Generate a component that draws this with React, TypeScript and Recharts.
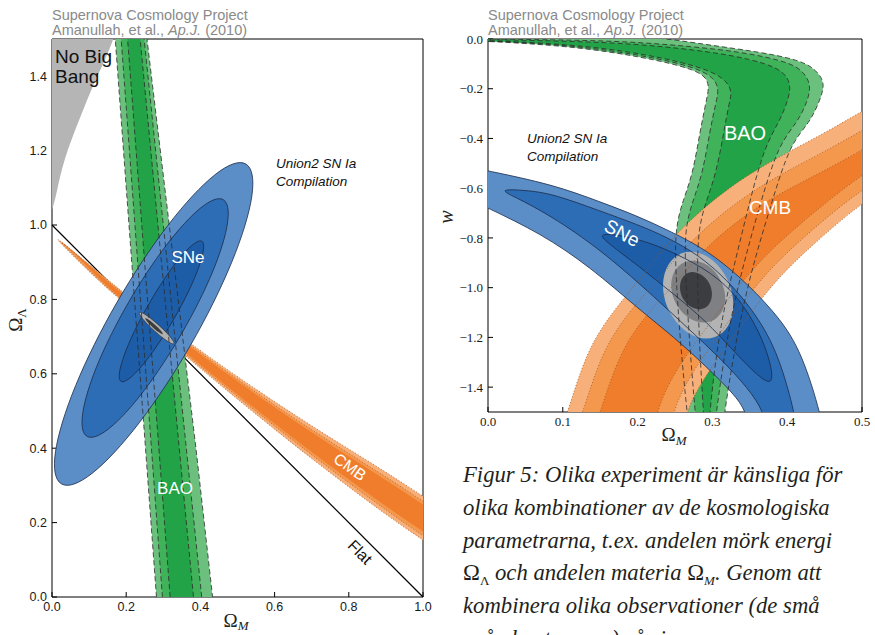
import React from 'react';
import { ScatterChart, Scatter, XAxis, YAxis, ReferenceLine } from 'recharts';

// ---- left panel: Omega_M vs Omega_Lambda ----
const xTicksL = [0, 0.2, 0.4, 0.6, 0.8, 1.0];
const yTicksL = [0, 0.2, 0.4, 0.6, 0.8, 1.0, 1.2, 1.4];

const noBigBang = [[-0.05, 1.6], [0.19, 1.6], [0.17, 1.5], [0.121, 1.4], [0.084, 1.31], [0.04, 1.2], [0.016, 1.11], [0.0, 1.02], [-0.05, 0.97]];

const baoOuterL = [[0.163, 1.6], [0.252, 0.4], [0.289, -0.1], [0.444, -0.1], [0.388, 0.4], [0.244, 1.6]];
const baoMidL = [[0.179, 1.6], [0.268, 0.4], [0.305, -0.1], [0.414, -0.1], [0.362, 0.4], [0.238, 1.6]];
const baoInnerL = [[0.196, 1.6], [0.288, 0.4], [0.326, -0.1], [0.391, -0.1], [0.343, 0.4], [0.228, 1.6]];

const cmbOuterL = [[-0.01, 0.985], [0.129, 0.87], [0.2, 0.812], [0.363, 0.686], [0.705, 0.45], [1.2, 0.16], [1.2, 0.0], [0.705, 0.362], [0.363, 0.644], [0.2, 0.786], [0.129, 0.846], [0.04, 0.934]];
const cmbMidL = [[0.003, 0.975], [0.129, 0.867], [0.2, 0.809], [0.363, 0.681], [0.705, 0.439], [1.2, 0.143], [1.2, 0.015], [0.705, 0.373], [0.363, 0.649], [0.2, 0.789], [0.129, 0.849], [0.045, 0.933]];
const cmbInnerL = [[0.02, 0.962], [0.129, 0.864], [0.2, 0.807], [0.363, 0.677], [0.705, 0.432], [1.2, 0.131], [1.2, 0.03], [0.705, 0.38], [0.363, 0.653], [0.2, 0.791], [0.129, 0.852], [0.05, 0.935]];

const sneOuterL = [[0.534, 1.184], [0.447, 1.154], [0.314, 1.011], [0.17, 0.794], [0.054, 0.561], [-0.003, 0.374], [0.014, 0.284], [0.101, 0.314], [0.234, 0.457], [0.378, 0.674], [0.494, 0.907], [0.551, 1.094]];
const sneMidL = [[0.47, 1.083], [0.407, 1.06], [0.309, 0.954], [0.203, 0.794], [0.116, 0.621], [0.074, 0.483], [0.086, 0.417], [0.149, 0.44], [0.247, 0.546], [0.353, 0.707], [0.44, 0.879], [0.482, 1.017]];
const sneInnerL = [[0.409, 0.965], [0.376, 0.949], [0.321, 0.885], [0.26, 0.789], [0.207, 0.687], [0.179, 0.607], [0.181, 0.571], [0.214, 0.587], [0.269, 0.652], [0.331, 0.748], [0.383, 0.849], [0.411, 0.929]];

const combOuterL = [[0.331, 0.679], [0.327, 0.689], [0.311, 0.709], [0.288, 0.731], [0.263, 0.752], [0.243, 0.765], [0.233, 0.767], [0.237, 0.757], [0.253, 0.737], [0.276, 0.715], [0.301, 0.694], [0.321, 0.681]];
const combInnerL = [[0.301, 0.7046], [0.2958, 0.7141], [0.2784, 0.7317], [0.259, 0.7471], [0.249, 0.7514], [0.2542, 0.7419], [0.2716, 0.7243], [0.291, 0.7089]];

const flatLine = [{ x: 0, y: 1 }, { x: 1, y: 0 }];

// ---- right panel: Omega_M vs w ----
const xTicksR = [0, 0.1, 0.2, 0.3, 0.4, 0.5];
const yTicksR = [0, -0.2, -0.4, -0.6, -0.8, -1.0, -1.2, -1.4];

const baoOuterR = [[-0.1, 0.0], [0.0, -0.008], [0.114, -0.03], [0.203, -0.07], [0.283, -0.124], [0.297, -0.177], [0.292, -0.245], [0.283, -0.379], [0.274, -0.54], [0.261, -0.647], [0.249, -0.77], [0.252, -1.0], [0.258, -1.25], [0.266, -1.5], [0.27, -1.6], [0.272, -1.7],
  [0.31, -1.7], [0.313, -1.6], [0.316, -1.5], [0.335, -1.15], [0.355, -0.9], [0.38, -0.65], [0.404, -0.42], [0.43, -0.338], [0.444, -0.245], [0.451, -0.178], [0.439, -0.124], [0.417, -0.084], [0.359, -0.05], [0.292, -0.023], [0.2, 0.02], [0.0, 0.03], [-0.1, 0.03]];
const baoMidR = [[-0.1, -0.002], [0.0, -0.006], [0.114, -0.026], [0.205, -0.064], [0.292, -0.122], [0.31, -0.19], [0.305, -0.25], [0.296, -0.38], [0.287, -0.54], [0.274, -0.65], [0.262, -0.77], [0.265, -1.0], [0.27, -1.25], [0.277, -1.5], [0.28, -1.6], [0.282, -1.7],
  [0.3, -1.7], [0.302, -1.6], [0.305, -1.5], [0.322, -1.15], [0.342, -0.9], [0.365, -0.65], [0.389, -0.42], [0.414, -0.335], [0.428, -0.245], [0.432, -0.18], [0.42, -0.125], [0.4, -0.092], [0.35, -0.058], [0.29, -0.035], [0.2, -0.012], [0.114, -0.004], [0.0, 0.0], [-0.1, 0.002]];
const baoInnerR = [[-0.1, -0.003], [0.0, -0.005], [0.114, -0.022], [0.208, -0.058], [0.305, -0.125], [0.328, -0.2], [0.322, -0.26], [0.315, -0.38], [0.305, -0.54], [0.292, -0.65], [0.28, -0.77], [0.28, -1.0], [0.283, -1.25], [0.288, -1.5], [0.29, -1.6], [0.291, -1.7],
  [0.294, -1.7], [0.295, -1.6], [0.296, -1.5], [0.31, -1.15], [0.33, -0.9], [0.35, -0.65], [0.37, -0.43], [0.39, -0.33], [0.402, -0.24], [0.405, -0.18], [0.395, -0.13], [0.37, -0.097], [0.33, -0.068], [0.28, -0.045], [0.2, -0.02], [0.114, -0.009], [0.0, -0.002], [-0.1, -0.001]];

const cmbOuterR = [[0.085, -1.7], [0.093, -1.6], [0.107, -1.5], [0.132, -1.25], [0.168, -1.09], [0.203, -0.969], [0.248, -0.785], [0.319, -0.6], [0.381, -0.486], [0.448, -0.382], [0.5, -0.29], [0.55, -0.21], [0.6, -0.13],
  [0.6, -0.5], [0.55, -0.57], [0.5, -0.655], [0.426, -0.848], [0.381, -0.982], [0.337, -1.157], [0.28, -1.4], [0.266, -1.5], [0.258, -1.6], [0.252, -1.7]];
const cmbMidR = [[0.106, -1.7], [0.114, -1.6], [0.127, -1.5], [0.153, -1.25], [0.19, -1.09], [0.226, -0.975], [0.27, -0.81], [0.34, -0.635], [0.4, -0.53], [0.46, -0.437], [0.51, -0.35], [0.56, -0.27], [0.6, -0.2],
  [0.6, -0.45], [0.55, -0.52], [0.5, -0.6], [0.42, -0.8], [0.37, -0.945], [0.325, -1.12], [0.265, -1.37], [0.248, -1.5], [0.24, -1.6], [0.234, -1.7]];
const cmbInnerR = [[0.13, -1.7], [0.138, -1.6], [0.15, -1.5], [0.177, -1.25], [0.214, -1.1], [0.25, -0.985], [0.292, -0.83], [0.36, -0.67], [0.42, -0.575], [0.475, -0.49], [0.52, -0.41], [0.6, -0.29],
  [0.6, -0.4], [0.55, -0.46], [0.5, -0.54], [0.41, -0.76], [0.36, -0.9], [0.312, -1.08], [0.245, -1.35], [0.226, -1.5], [0.218, -1.6], [0.212, -1.7]];

const sneOuterR = [[-0.1, -0.47], [-0.05, -0.5], [0, -0.53], [0.0865, -0.585], [0.15, -0.655], [0.2, -0.712], [0.245, -0.775], [0.292, -0.848], [0.337, -0.956], [0.381, -1.09], [0.417, -1.237], [0.444, -1.5], [0.45, -1.6], [0.452, -1.7],
  [0.355, -1.7], [0.35, -1.6], [0.346, -1.5], [0.328, -1.425], [0.292, -1.318], [0.248, -1.197], [0.203, -1.09], [0.136, -0.915], [0.07, -0.781], [0, -0.68], [-0.05, -0.608], [-0.1, -0.536]];
const sneMidR = [[0.012, -0.603], [0.05, -0.608], [0.0865, -0.622], [0.15, -0.692], [0.2, -0.746], [0.24, -0.798], [0.282, -0.869], [0.32, -0.97], [0.353, -1.085], [0.386, -1.245], [0.41, -1.5], [0.414, -1.6], [0.416, -1.7],
  [0.381, -1.7], [0.375, -1.6], [0.369, -1.5], [0.348, -1.405], [0.311, -1.285], [0.268, -1.165], [0.225, -1.045], [0.158, -0.865], [0.092, -0.725], [0.04, -0.64]];
const sneInnerR = [[0.144, -0.775], [0.2, -0.8], [0.25, -0.86], [0.3, -0.94], [0.335, -1.04], [0.362, -1.17], [0.378, -1.3], [0.382, -1.395], [0.362, -1.36], [0.33, -1.26], [0.29, -1.13], [0.25, -1.03], [0.2, -0.91], [0.16, -0.82]];

const combOuterR = [[0.329, -1.03], [0.317, -0.939], [0.296, -0.872], [0.27, -0.848], [0.248, -0.872], [0.234, -0.939], [0.233, -1.03], [0.245, -1.121], [0.267, -1.188], [0.292, -1.212], [0.315, -1.188], [0.328, -1.121]];
const combMidR = [[0.318, -1.016], [0.309, -0.951], [0.293, -0.903], [0.273, -0.886], [0.256, -0.903], [0.245, -0.951], [0.244, -1.016], [0.253, -1.081], [0.269, -1.129], [0.289, -1.146], [0.306, -1.129], [0.317, -1.081]];
const combInnerR = [[0.3, -1.012], [0.295, -0.973], [0.285, -0.944], [0.273, -0.933], [0.263, -0.944], [0.257, -0.973], [0.256, -1.012], [0.261, -1.052], [0.271, -1.08], [0.283, -1.091], [0.293, -1.08], [0.299, -1.052]];

const toPts = (a: number[][]) => a.map(([x, y]) => ({ x, y }));
const noDot = () => null;

const green = ['#6cc07e', '#40b25a', '#22a347'];
const orange = ['#f7b079', '#f4984e', '#f07d2b'];
const blue = ['#5b8ec7', '#2c6db5', '#1d5da8'];
const grey = ['#b3b3b3', '#7e8083', '#3b3d40'];

// filled contour region drawn through the scatter line
function region(data: number[][], fill: string, curve = 'basisClosed') {
    return (
        <Scatter data={toPts(data)} shape={noDot} isAnimationActive={false} legendType="none"
            line={{ fill, stroke: 'none' }} lineType="joint" lineJointType={curve as any} />
    );
}

function outline(data: number[][], stroke: string, dash?: string, curve = 'basisClosed', w = 0.8) {
    return (
        <Scatter data={toPts(data)} shape={noDot} isAnimationActive={false} legendType="none"
            line={{ fill: 'none', stroke, strokeWidth: w, strokeDasharray: dash }} lineType="joint" lineJointType={curve as any} />
    );
}

const f1 = (v: number) => (v < 0 ? '\u2212' + Math.abs(v).toFixed(1) : v.toFixed(1));
const sansTick = { fill: '#1a1a1a', fontSize: 12.5, fontFamily: "'Liberation Sans', Arial, sans-serif" };
const serifTick = { fill: '#1a1a1a', fontSize: 13, fontFamily: "'Liberation Serif', 'DejaVu Serif', serif" };
const ax = { stroke: '#000', strokeWidth: 1 };

function LeftPanel() {
    return (
        <ScatterChart width={440} height={635} margin={{ top: 38, right: 16, bottom: 8, left: 12 }}>
            {region(noBigBang, '#b5b5b5')}
            {region(baoOuterL, green[0], 'linearClosed')}
            {region(baoMidL, green[1], 'linearClosed')}
            {region(baoInnerL, green[2], 'linearClosed')}
            {region(cmbOuterL, orange[0])}
            {region(cmbMidL, orange[1])}
            {region(cmbInnerL, orange[2])}
            {outline(cmbOuterL, '#b0571a', '1 2')}
            {outline(cmbMidL, '#b0571a', '1 2')}
            {region(sneOuterL, blue[0])}
            {region(sneMidL, blue[1])}
            {region(sneInnerL, blue[2])}
            {outline(sneOuterL, '#1b2b4a')}
            {outline(sneMidL, '#1b2b4a')}
            {outline(sneInnerL, '#1b2b4a')}
            {region(combOuterL, '#b0b0b0')}
            {region(combInnerL, '#3d3d3d')}
            {outline(combOuterL, '#222', undefined, 'basisClosed', 0.6)}
            {outline(baoOuterL, '#2b2b2b', '5 3', 'linearClosed')}
            {outline(baoMidL, '#2b2b2b', '5 3', 'linearClosed')}
            {outline(baoInnerL, '#2b2b2b', '5 3', 'linearClosed')}
            <ReferenceLine segment={flatLine} stroke="#000" strokeWidth={1.2} />
            <XAxis type="number" dataKey="x" domain={[0, 1]} ticks={xTicksL} interval={0} allowDataOverflow height={30}
                tickSize={-5} tickMargin={10} tickFormatter={f1} tick={sansTick} axisLine={ax} tickLine={ax} />
            <XAxis xAxisId="top" orientation="top" type="number" dataKey="x" domain={[0, 1]} ticks={xTicksL} interval={0}
                allowDataOverflow height={1} tickSize={-5} tick={false} axisLine={ax} tickLine={ax} />
            <YAxis type="number" dataKey="y" domain={[0, 1.5]} ticks={yTicksL} interval={0} allowDataOverflow width={40}
                tickSize={-5} tickMargin={10} tickFormatter={f1} tick={sansTick} axisLine={ax} tickLine={ax} />
            <YAxis yAxisId="right" orientation="right" type="number" dataKey="y" domain={[0, 1.5]} ticks={yTicksL} interval={0}
                allowDataOverflow width={1} tickSize={-5} tick={false} axisLine={ax} tickLine={ax} />
        </ScatterChart>
    );
}

function RightPanel() {
    return (
        <ScatterChart width={435} height={635} margin={{ top: 38, right: 12, bottom: 193, left: 8 }}>
            {region(baoOuterR, green[0])}
            {region(baoMidR, green[1])}
            {region(baoInnerR, green[2])}
            {region(cmbOuterR, orange[0])}
            {region(cmbMidR, orange[1])}
            {region(cmbInnerR, orange[2])}
            {region(sneOuterR, blue[0])}
            {region(sneMidR, blue[1])}
            {region(sneInnerR, blue[2])}
            {region(combOuterR, grey[0])}
            {region(combMidR, grey[1])}
            {region(combInnerR, grey[2])}
            {outline(sneOuterR, '#1b2b4a')}
            {outline(sneMidR, '#1b2b4a')}
            {outline(sneInnerR, '#1b2b4a')}
            {outline(cmbOuterR, '#a0521c', '1 2')}
            {outline(cmbMidR, '#a0521c', '1 2')}
            {outline(cmbInnerR, '#a0521c', '1 2')}
            {outline(baoOuterR, '#2b2b2b', '5 3')}
            {outline(baoMidR, '#2b2b2b', '5 3')}
            {outline(baoInnerR, '#2b2b2b', '5 3')}
            <XAxis type="number" dataKey="x" domain={[0, 0.5]} ticks={xTicksR} interval={0} allowDataOverflow height={30}
                tickSize={-5} tickMargin={10} tickFormatter={f1} tick={serifTick} axisLine={ax} tickLine={ax} />
            <XAxis xAxisId="top" orientation="top" type="number" dataKey="x" domain={[0, 0.5]} ticks={xTicksR} interval={0}
                allowDataOverflow height={1} tickSize={-5} tick={false} axisLine={ax} tickLine={ax} />
            <YAxis type="number" dataKey="y" domain={[-1.5, 0]} ticks={yTicksR} interval={0} allowDataOverflow width={40}
                tickSize={-5} tickMargin={10} tickFormatter={f1} tick={serifTick} axisLine={ax} tickLine={ax} />
            <YAxis yAxisId="right" orientation="right" type="number" dataKey="y" domain={[-1.5, 0]} ticks={yTicksR} interval={0}
                allowDataOverflow width={1} tickSize={-5} tick={false} axisLine={ax} tickLine={ax} />
        </ScatterChart>
    );
}

const sans = "'Liberation Sans', Arial, sans-serif";
const serif = "'Liberation Serif', 'Times New Roman', serif";

export default function App() {
    return (
        <div style={{ position: 'absolute', left: 0, top: 0, width: 875, height: 635, overflow: 'hidden', background: '#fff' }}>
            <div style={{ position: 'absolute', left: 0, top: 0 }}><LeftPanel /></div>
            <div style={{ position: 'absolute', left: 440, top: 0 }}><RightPanel /></div>
            <svg width={875} height={635} style={{ position: 'absolute', left: 0, top: 0, pointerEvents: 'none' }}>
                <g fontFamily={sans} fill="#8a8a8a" fontSize={14.5}>
                    <text x={52} y={19.5}>Supernova Cosmology Project</text>
                    <text x={52} y={34.5}>Amanullah, et al., <tspan fontStyle="italic">Ap.J.</tspan> (2010)</text>
                    <text x={488} y={19.5}>Supernova Cosmology Project</text>
                    <text x={488} y={34.5}>Amanullah, et al., <tspan fontStyle="italic">Ap.J.</tspan> (2010)</text>
                </g>
                <g fontFamily={sans}>
                    <text x={55} y={63} fontSize={19} fill="#111">No Big</text>
                    <text x={55} y={83} fontSize={19} fill="#111">Bang</text>
                    <text x={276} y={168} fontSize={13.5} fontStyle="italic" fill="#111">Union2 SN Ia</text>
                    <text x={276} y={186} fontSize={13.5} fontStyle="italic" fill="#111">Compilation</text>
                    <text x={188} y={257} fontSize={17} fill="#fff" textAnchor="middle" dominantBaseline="central">SNe</text>
                    <text x={175} y={488} fontSize={17} fill="#fff" textAnchor="middle" dominantBaseline="central">BAO</text>
                    <text transform="translate(350,467) rotate(35.5)" fontSize={16} fill="#fff" textAnchor="middle" dominantBaseline="central">CMB</text>
                    <text transform="translate(360,552) rotate(45)" fontSize={16} fill="#111" textAnchor="middle" dominantBaseline="central">Flat</text>

                    <text x={527} y={143} fontSize={13.5} fontStyle="italic" fill="#111">Union2 SN Ia</text>
                    <text x={527} y={161} fontSize={13.5} fontStyle="italic" fill="#111">Compilation</text>
                    <text x={745} y={133} fontSize={20} fill="#fff" textAnchor="middle" dominantBaseline="central">BAO</text>
                    <text x={770} y={207} fontSize={19} fill="#fff" textAnchor="middle" dominantBaseline="central">CMB</text>
                    <text transform="translate(622,233) rotate(28)" fontSize={19} fill="#fff" textAnchor="middle" dominantBaseline="central">SNe</text>
                </g>
                <g fontFamily={serif} fill="#222">
                    <text transform="translate(22,320) rotate(-90)" fontSize={19} textAnchor="middle">Ω<tspan fontSize={13} dy={4}>Λ</tspan></text>
                    <text x={236} y={627} fontSize={19} textAnchor="middle">Ω<tspan fontSize={13} dy={3} fontStyle="italic">M</tspan></text>
                    <text transform="translate(453,217) rotate(-90)" fontSize={20} fontStyle="italic" textAnchor="middle">w</text>
                    <text x={674} y={441} fontSize={19} textAnchor="middle">Ω<tspan fontSize={13} dy={4} fontStyle="italic">M</tspan></text>
                </g>
                <g fontFamily={serif} fontStyle="italic" fontSize={22.7} fill="#231f20">
                    <text x={463} y={482}>Figur 5: Olika experiment är känsliga för</text>
                    <text x={463} y={514.5}>olika kombinationer av de kosmologiska</text>
                    <text x={463} y={547.5}>parametrarna, t.ex. andelen mörk energi</text>
                    <text x={463} y={580}>
                        <tspan fontStyle="normal">Ω</tspan><tspan fontSize={13} fontStyle="normal" dy={5}>Λ</tspan>
                        <tspan dy={-5}> och andelen materia </tspan><tspan fontStyle="normal">Ω</tspan>
                        <tspan fontSize={13} dy={5}>M</tspan><tspan dy={-5}>. Genom att</tspan>
                    </text>
                    <text x={463} y={612.5}>kombinera olika observationer (de små</text>
                    <text x={463} y={645.5}>gråa konturerna) så ringar supernover</text>
                </g>
            </svg>
        </div>
    );
}
